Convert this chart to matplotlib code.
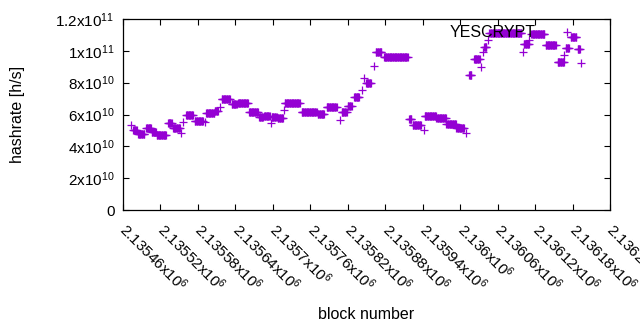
import numpy as np
import matplotlib
matplotlib.use("Agg")
import matplotlib.pyplot as plt
from matplotlib.ticker import FixedLocator
from matplotlib.transforms import ScaledTranslation

plt.rcParams["font.family"] = ["Liberation Sans", "DejaVu Sans"]
plt.rcParams["mathtext.fontset"] = "custom"
plt.rcParams["mathtext.rm"] = "Liberation Sans"
plt.rcParams["mathtext.it"] = "Liberation Sans"

# hashrate plateaus: first block, last block, hashrate [h/s]
seg_start = [2135473, 2135476, 2135484, 2135497, 2135506, 2135514, 2135532, 2135540,
             2135553, 2135556, 2135561, 2135575, 2135591, 2135593, 2135607, 2135615,
             2135618, 2135634, 2135644, 2135662, 2135678, 2135686, 2135697, 2135698,
             2135708, 2135718, 2135719, 2135746, 2135772, 2135786, 2135807, 2135810,
             2135820, 2135830, 2135842, 2135846, 2135849, 2135862, 2135865, 2135878,
             2135918, 2135924, 2135942, 2135943, 2135962, 2135978, 2135994, 2136010,
             2136014, 2136022, 2136034, 2136036, 2136038, 2136044, 2136047, 2136100,
             2136102, 2136111, 2136114, 2136137, 2136156, 2136167, 2136169, 2136177,
             2136188, 2136194]
seg_end = [2135473, 2135482, 2135494, 2135505, 2135513, 2135529, 2135538, 2135551,
           2135553, 2135556, 2135572, 2135588, 2135591, 2135606, 2135612, 2135615,
           2135631, 2135642, 2135660, 2135676, 2135684, 2135695, 2135697, 2135706,
           2135716, 2135718, 2135743, 2135770, 2135782, 2135802, 2135807, 2135818,
           2135826, 2135838, 2135842, 2135846, 2135857, 2135862, 2135874, 2135916,
           2135922, 2135937, 2135942, 2135961, 2135977, 2135993, 2136006, 2136010,
           2136018, 2136031, 2136034, 2136036, 2136042, 2136044, 2136098, 2136100,
           2136110, 2136111, 2136135, 2136153, 2136166, 2136167, 2136174, 2136186,
           2136192, 2136194]
seg_rate = [5.34e10, 5.03e10, 4.78e10, 5.15e10, 4.90e10, 4.71e10, 5.47e10, 5.15e10,
            4.84e10, 5.53e10, 5.97e10, 5.59e10, 5.53e10, 6.09e10, 6.22e10, 6.47e10,
            6.97e10, 6.66e10, 6.72e10, 6.16e10, 5.84e10, 5.91e10, 5.47e10, 5.84e10,
            5.78e10, 6.28e10, 6.72e10, 6.16e10, 6.03e10, 6.47e10, 5.65e10, 6.16e10,
            6.53e10, 7.10e10, 7.54e10, 8.29e10, 7.98e10, 9.05e10, 9.93e10, 9.61e10,
            5.72e10, 5.34e10, 5.03e10, 5.91e10, 5.78e10, 5.40e10, 5.15e10, 4.84e10,
            8.48e10, 9.49e10, 8.98e10, 9.93e10, 1.024e11, 1.068e11, 1.112e11, 9.93e10,
            1.043e11, 1.068e11, 1.106e11, 1.037e11, 9.30e10, 9.74e10, 1.018e11, 1.087e11,
            1.012e11, 9.24e10]

x_ticks = [2135460, 2135520, 2135580, 2135640, 2135700, 2135760, 2135820,
           2135880, 2135940, 2136000, 2136060, 2136120, 2136180, 2136240]
x_tick_labels = ["2.13546x10$^{6}$", "2.13552x10$^{6}$", "2.13558x10$^{6}$",
                 "2.13564x10$^{6}$", "2.1357x10$^{6}$", "2.13576x10$^{6}$",
                 "2.13582x10$^{6}$", "2.13588x10$^{6}$", "2.13594x10$^{6}$",
                 "2.136x10$^{6}$", "2.13606x10$^{6}$", "2.13612x10$^{6}$",
                 "2.13618x10$^{6}$", "2.13624x10$^{6}$"]
y_ticks = [0, 2e10, 4e10, 6e10, 8e10, 1e11, 1.2e11]
y_tick_labels = ["0", "2x10$^{10}$", "4x10$^{10}$", "6x10$^{10}$",
                 "8x10$^{10}$", "1x10$^{11}$", "1.2x10$^{11}$"]

# one point per block inside each plateau
blocks, rates = [], []
for s, e, r in zip(seg_start, seg_end, seg_rate):
    b = np.arange(s, e + 1)
    blocks.extend(b)
    rates.extend([r] * len(b))

fig = plt.figure(figsize=(6.4, 3.3), dpi=100)
ax = fig.add_axes([123 / 640, 120 / 330, 487 / 640, 191 / 330])

ax.plot(blocks, rates, linestyle="none", marker="+", markersize=5.2,
        markeredgewidth=0.9, color="#9400d3", label="YESCRYPT")

ax.set_xlim(x_ticks[0], x_ticks[-1])
ax.set_ylim(0, 1.2e11)
ax.xaxis.set_major_locator(FixedLocator(x_ticks))
ax.set_xticklabels(x_tick_labels, rotation=-45, ha="left", va="center",
                   rotation_mode="anchor", fontsize=11)
# nudge the rotated labels so they start right at their tick
shift = ScaledTranslation(0.06, 0, fig.dpi_scale_trans)
for lab in ax.get_xticklabels():
    lab.set_transform(lab.get_transform() + shift)
ax.yaxis.set_major_locator(FixedLocator(y_ticks))
ax.set_yticklabels(y_tick_labels, fontsize=11)
ax.tick_params(direction="in", top=True, right=True, length=4, width=0.8, pad=6)
ax.tick_params(axis="x", pad=11.5)
for sp in ax.spines.values():
    sp.set_linewidth(0.9)

ax.set_xlabel("block number", fontsize=11.5)
ax.xaxis.set_label_coords(0.5, -0.51)
ax.set_ylabel("hashrate [h/s]", fontsize=11.5)
ax.yaxis.set_label_coords(-0.201, 0.5)

ax.legend(loc="upper right", bbox_to_anchor=(0.968, 1.026), frameon=False,
          markerfirst=False, numpoints=1, fontsize=11.5, handlelength=2.0,
          handletextpad=1.0, borderaxespad=0.3)

fig.savefig("out.png", dpi=100)
